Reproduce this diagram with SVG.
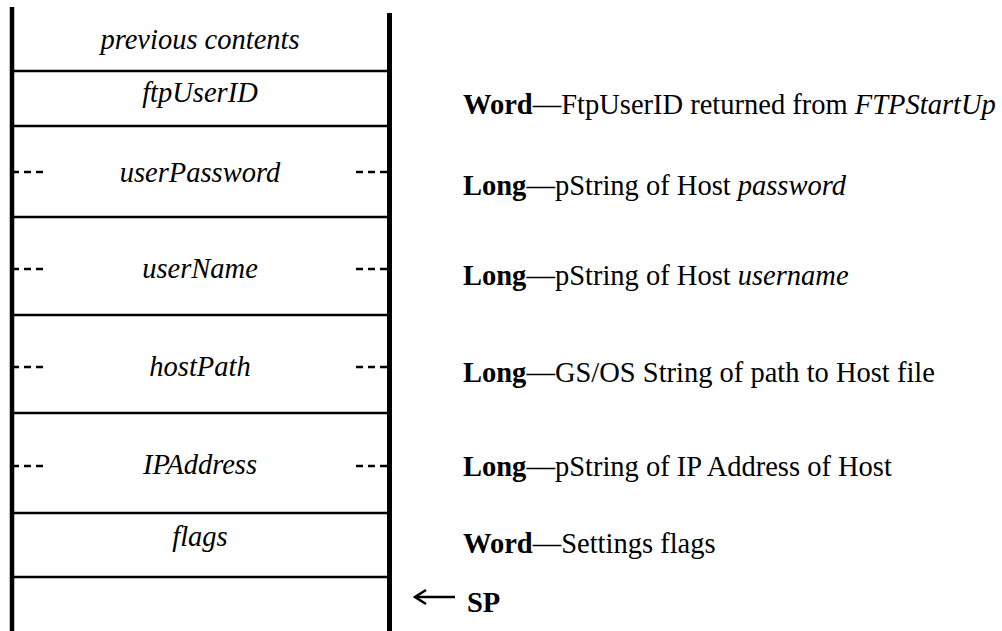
<svg xmlns="http://www.w3.org/2000/svg" width="1002" height="631" viewBox="0 0 1002 631">
<style>
.lbl{font-family:"Liberation Serif","Times New Roman",serif;font-size:28.5px;font-style:italic;text-anchor:middle;fill:#000}
.desc{font-family:"Liberation Serif","Times New Roman",serif;font-size:28.5px;fill:#000}
.b{font-weight:bold}
.i{font-style:italic}
.sep{stroke:#000;stroke-width:2.5}
.dash{stroke:#000;stroke-width:2.5;stroke-dasharray:7 5}
.wall{stroke:#000;fill:none}
</style>
<rect width="1002" height="631" fill="#fff"/>
<g id="stack-walls">
<line class="wall" x1="12" y1="7" x2="12" y2="631" stroke-width="4.5"/>
<line class="wall" x1="389.5" y1="13" x2="389.5" y2="631" stroke-width="5"/>
</g>
<g id="prev">
<text class="lbl" x="200" y="49">previous contents</text>
</g>
<g id="ftpUserID">
<line class="sep" x1="12" y1="71" x2="389" y2="71"/>
<text class="lbl" x="200" y="102">ftpUserID</text>
<text class="desc" x="463" y="114"><tspan class="b">Word</tspan>—FtpUserID returned from <tspan class="i">FTPStartUp</tspan></text>
</g>
<g id="userPassword">
<line class="sep" x1="12" y1="126" x2="389" y2="126"/>
<line class="dash" x1="12" y1="172" x2="48" y2="172"/>
<line class="dash" x1="356" y1="172" x2="389" y2="172"/>
<text class="lbl" x="200" y="182">userPassword</text>
<text class="desc" x="463" y="195"><tspan class="b">Long</tspan>—pString of Host <tspan class="i">password</tspan></text>
</g>
<g id="userName">
<line class="sep" x1="12" y1="217" x2="389" y2="217"/>
<line class="dash" x1="12" y1="269" x2="48" y2="269"/>
<line class="dash" x1="356" y1="269" x2="389" y2="269"/>
<text class="lbl" x="200" y="278">userName</text>
<text class="desc" x="463" y="285"><tspan class="b">Long</tspan>—pString of Host <tspan class="i">username</tspan></text>
</g>
<g id="hostPath">
<line class="sep" x1="12" y1="315" x2="389" y2="315"/>
<line class="dash" x1="12" y1="367" x2="48" y2="367"/>
<line class="dash" x1="356" y1="367" x2="389" y2="367"/>
<text class="lbl" x="200" y="376">hostPath</text>
<text class="desc" x="463" y="382"><tspan class="b">Long</tspan>—GS/OS String of path to Host file</text>
</g>
<g id="IPAddress">
<line class="sep" x1="12" y1="413" x2="389" y2="413"/>
<line class="dash" x1="12" y1="466" x2="48" y2="466"/>
<line class="dash" x1="356" y1="466" x2="389" y2="466"/>
<text class="lbl" x="200" y="474">IPAddress</text>
<text class="desc" x="463" y="476"><tspan class="b">Long</tspan>—pString of IP Address of Host</text>
</g>
<g id="flags">
<line class="sep" x1="12" y1="513" x2="389" y2="513"/>
<text class="lbl" x="200" y="546">flags</text>
<text class="desc" x="463" y="553"><tspan class="b">Word</tspan>—Settings flags</text>
</g>
<g id="bottom">
<line class="sep" x1="12" y1="577" x2="389" y2="577"/>
</g>
<g id="connectors">
<line x1="415" y1="597" x2="455" y2="597" stroke="#000" stroke-width="2.5"/>
<polyline points="426,590 415,597 426,604" fill="none" stroke="#000" stroke-width="2.5"/>
</g>
<g id="sp">
<text class="desc b" x="467" y="612">SP</text>
</g>
</svg>
